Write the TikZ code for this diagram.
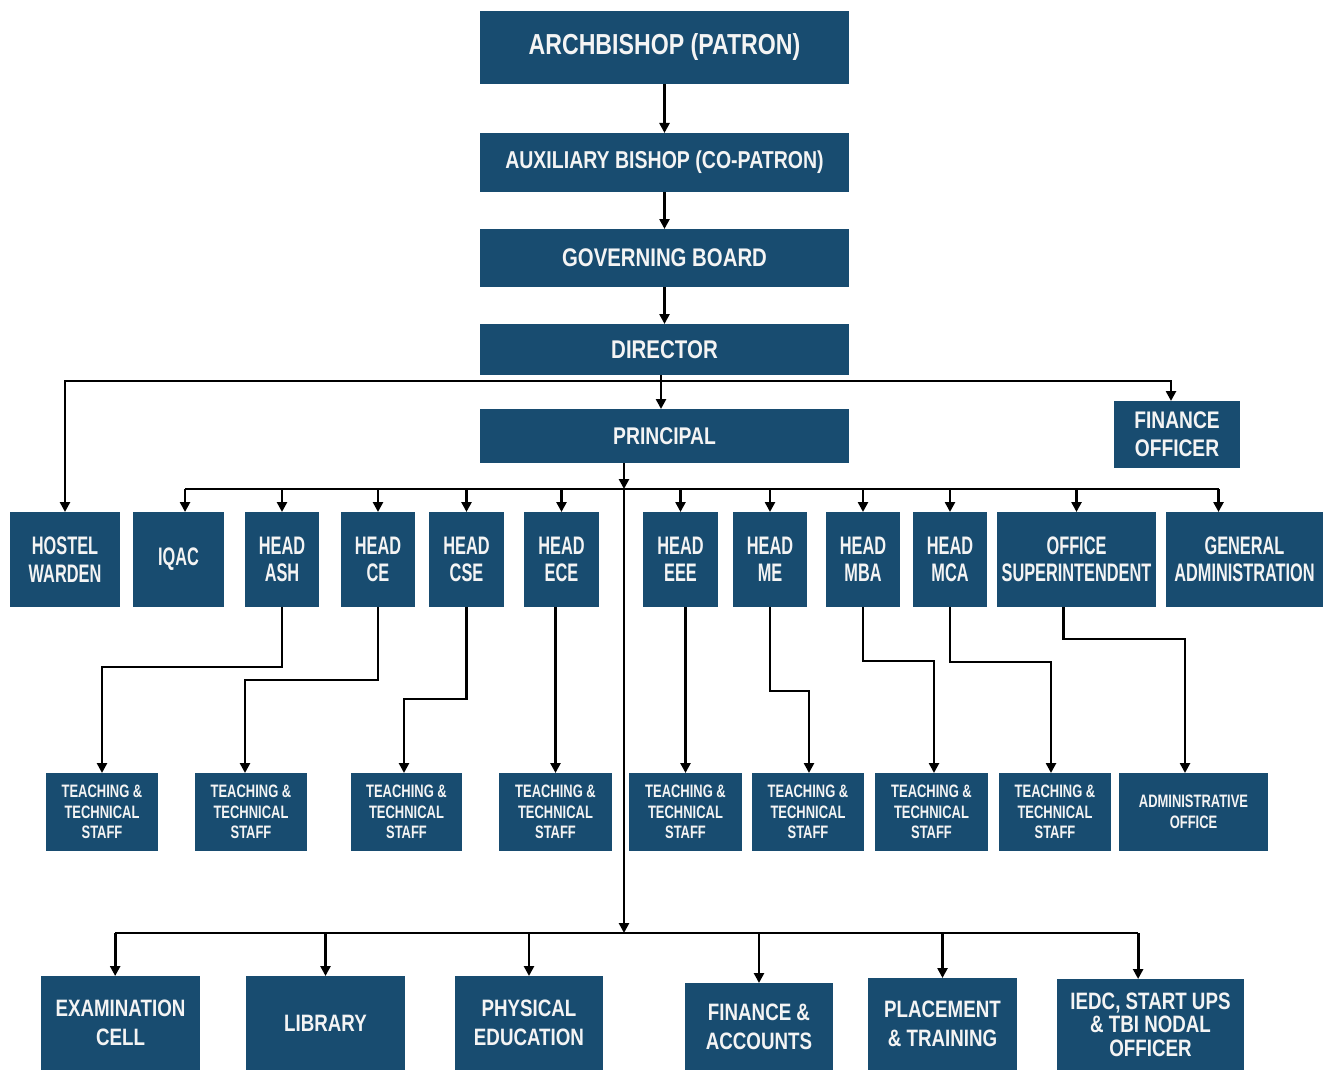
\documentclass[tikz,border=0pt]{standalone}
\usepackage{fontspec}
\setmainfont{Liberation Sans}
\newfontfamily\fT[FakeStretch=0.80]{Liberation Sans}
\newfontfamily\fM[FakeStretch=0.645]{Liberation Sans}
\newfontfamily\fS[FakeStretch=0.72]{Liberation Sans}
\newfontfamily\fB[FakeStretch=0.79]{Liberation Sans}
\usetikzlibrary{arrows.meta,calc}
\definecolor{boxblue}{RGB}{24,76,112}
\definecolor{txtwhite}{RGB}{244,244,244}
% \mybox{style}{x1}{y1}{x2}{y2}{name}{text}
\newcommand\mybox[7]{\node[#1, minimum width={(#4-#2)*0.75pt}, minimum height={(#5-#3)*0.75pt}] (#6) at ({(#2+#4)/2},{(#3+#5)/2}) {#7};}
\begin{document}
\begin{tikzpicture}[x=0.75pt,y=-0.75pt,
  box/.style={fill=boxblue, draw=none, inner sep=0pt, outer sep=0pt, text=txtwhite, align=center},
  topf/.style={box, font=\fT\bfseries\fontsize{#1}{21}\selectfont},
  mid/.style={box, font=\fM\bfseries\fontsize{19}{20.5}\selectfont},
  staff/.style={box, font=\fS\bfseries\fontsize{13.5}{15.4}\selectfont},
  bot/.style={box, font=\fB\bfseries\fontsize{17.8}{21.5}\selectfont},
  iedcf/.style={box, font=\fB\bfseries\fontsize{17.8}{17.5}\selectfont},
  line/.style={line width=2.1pt, black},
  arr/.style={line, -{Triangle[length=7.5pt,width=7.5pt]}}]
\fill[white] (0,0) rectangle (1334,1070);
\useasboundingbox (0,0) rectangle (1334,1070);

% top chain
\mybox{topf=21.7}{480}{11}{849}{84}{arch}{ARCHBISHOP (PATRON)}
\mybox{topf=18.3}{480}{133}{849}{192}{aux}{AUXILIARY BISHOP (CO-PATRON)}
\mybox{topf=19.1}{480}{229}{849}{287}{gov}{GOVERNING BOARD}
\mybox{topf=19.2}{480}{324}{849}{375}{dir}{DIRECTOR}
\mybox{topf=18.1}{480}{409}{849}{463}{prin}{PRINCIPAL}
\mybox{topf=18}{1114}{401}{1240}{468}{fin}{FINANCE\\OFFICER}

% middle row
\mybox{mid}{10}{512}{120}{607}{hostel}{HOSTEL\\WARDEN}
\mybox{mid}{133}{512}{224}{607}{iqac}{IQAC}
\mybox{mid}{245}{512}{319}{607}{ash}{HEAD\\ASH}
\mybox{mid}{341}{512}{415}{607}{ce}{HEAD\\CE}
\mybox{mid}{429}{512}{504}{607}{cse}{HEAD\\CSE}
\mybox{mid}{524}{512}{599}{607}{ece}{HEAD\\ECE}
\mybox{mid}{643}{512}{718}{607}{eee}{HEAD\\EEE}
\mybox{mid}{733}{512}{807}{607}{me}{HEAD\\ME}
\mybox{mid}{826}{512}{900}{607}{mba}{HEAD\\MBA}
\mybox{mid}{913}{512}{987}{607}{mca}{HEAD\\MCA}
\mybox{mid}{997}{512}{1156}{607}{osup}{OFFICE\\SUPERINTENDENT}
\mybox{mid}{1166}{512}{1323}{607}{gen}{GENERAL\\ADMINISTRATION}

% staff row
\mybox{staff}{46}{773}{158}{851}{t1}{TEACHING \&\\TECHNICAL\\STAFF}
\mybox{staff}{195}{773}{307}{851}{t2}{TEACHING \&\\TECHNICAL\\STAFF}
\mybox{staff}{351}{773}{462}{851}{t3}{TEACHING \&\\TECHNICAL\\STAFF}
\mybox{staff}{499}{773}{612}{851}{t4}{TEACHING \&\\TECHNICAL\\STAFF}
\mybox{staff}{629}{773}{742}{851}{t5}{TEACHING \&\\TECHNICAL\\STAFF}
\mybox{staff}{752}{773}{864}{851}{t6}{TEACHING \&\\TECHNICAL\\STAFF}
\mybox{staff}{875}{773}{988}{851}{t7}{TEACHING \&\\TECHNICAL\\STAFF}
\mybox{staff}{999}{773}{1111}{851}{t8}{TEACHING \&\\TECHNICAL\\STAFF}
\mybox{staff}{1119}{773}{1268}{851}{adm}{ADMINISTRATIVE\\OFFICE}

% bottom row
\mybox{bot}{41}{976}{200}{1070}{exam}{EXAMINATION\\CELL}
\mybox{bot}{246}{976}{405}{1070}{lib}{LIBRARY}
\mybox{bot}{455}{976}{603}{1070}{phys}{PHYSICAL\\EDUCATION}
\mybox{bot}{685}{983}{833}{1070}{fina}{FINANCE \&\\ACCOUNTS}
\mybox{bot}{868}{978}{1017}{1070}{place}{PLACEMENT\\\& TRAINING}
\mybox{iedcf}{1057}{979}{1244}{1070}{iedc}{IEDC, START UPS\\\& TBI NODAL\\OFFICER}

% top chain connectors
\draw[arr] (arch) -- (aux);
\draw[arr] (aux) -- (gov);
\draw[arr] (gov) -- (dir);

% director branches
\coordinate (dj) at (661,381);
\coordinate (fN) at ([xshift=-4.5pt]fin.north);
\draw[line] (dir.south -| dj) -- (dj);
\draw[arr] (dj) -| (hostel.north);
\draw[arr] (dj) -| (fN);
\draw[arr] (dj) -- (prin.north -| dj);

% principal trunk
\coordinate (pj) at (624,489);
\coordinate (pb) at (624,933);
\draw[arr] (prin.south -| pj) -- (pj);
\draw[arr] (pj) -- (pb);

% heads bus
\coordinate (iN) at ([xshift=4.9pt]iqac.north);
\coordinate (gN) at ([xshift=-19.5pt]gen.north);
\draw[line] (iN |- pj) -- (gN |- pj);
\foreach \n in {iN,ash.north,ce.north,cse.north,ece.north,eee.north,me.north,mba.north,mca.north,osup.north,gN}
  \draw[arr] (\n |- pj) -- (\n);

% bottom bus
\coordinate (eN) at ([xshift=-4pt]exam.north);
\coordinate (zN) at ([xshift=-9.3pt]iedc.north);
\draw[line] (eN |- pb) -- (zN |- pb);
\foreach \n in {eN,lib.north,phys.north,fina.north,place.north,zN}
  \draw[arr] (\n |- pb) -- (\n);

% drops to staff
\coordinate (e1) at (102,667);
\coordinate (e2) at (245,680);
\coordinate (e3) at (404,699);
\coordinate (e6) at (809,691);
\coordinate (e7) at (934,661);
\coordinate (e8) at (1051,662);
\coordinate (e9) at (1185,639);
\coordinate (oS) at ([xshift=-9.75pt]osup.south);
\draw[arr] (ash.south) |- (e1) -- (t1.north -| e1);
\draw[arr] (ce.south) |- (e2) -- (t2.north -| e2);
\draw[arr] (cse.south) |- (e3) -- (t3.north -| e3);
\draw[arr] (ece.south -| t4.north) -- (t4.north);
\draw[arr] (eee.south -| t5.north) -- (t5.north);
\draw[arr] (me.south) |- (e6) -- (t6.north -| e6);
\draw[arr] (mba.south) |- (e7) -- (t7.north -| e7);
\draw[arr] (mca.south) |- (e8) -- (t8.north -| e8);
\draw[arr] (oS) |- (e9) -- (adm.north -| e9);
\end{tikzpicture}
\end{document}
